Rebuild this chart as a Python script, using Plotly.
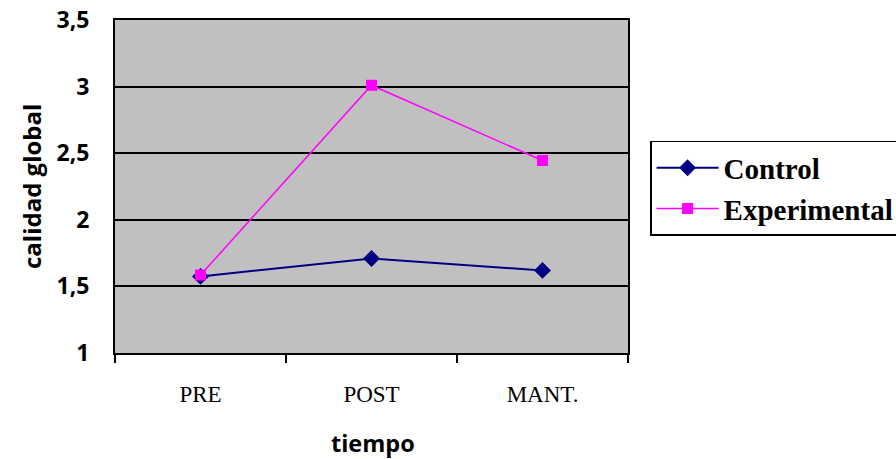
import plotly.graph_objects as go

categories = ["PRE", "POST", "MANT."]
control = [1.575, 1.71, 1.62]
experimental = [1.585, 3.01, 2.445]
y_ticks = [1, 1.5, 2, 2.5, 3, 3.5]
y_tick_labels = ["1", "1,5", "2", "2,5", "3", "3,5"]

fig = go.Figure()
fig.add_trace(go.Scatter(
    x=categories, y=control, name="Control", mode="lines+markers",
    line=dict(color="#000080", width=2),
    marker=dict(symbol="diamond", size=13, color="#000080"),
))
fig.add_trace(go.Scatter(
    x=categories, y=experimental, name="Experimental", mode="lines+markers",
    line=dict(color="#FF00FF", width=1.5),
    marker=dict(symbol="square", size=11, color="#FF00FF"),
))

fig.update_layout(
    width=896, height=459,
    margin=dict(l=115, r=268, t=20, b=106, autoexpand=False),
    paper_bgcolor="white", plot_bgcolor="#C0C0C0",
    showlegend=True,
    legend=dict(
        x=1.043, xanchor="left", y=0.637, yanchor="top",
        bordercolor="black", borderwidth=1.5, bgcolor="white",
        font=dict(family="Liberation Serif", size=29, color="black", weight="bold"),
        tracegroupgap=0, itemwidth=62,
    ),
    xaxis=dict(
        type="category", tickson="boundaries", ticks="outside", ticklen=8,
        tickcolor="black", tickwidth=2, automargin=False,
        showline=True, linecolor="black", linewidth=2, mirror=True,
        showgrid=False, ticklabelstandoff=19,
        tickfont=dict(family="Liberation Serif", size=23, color="black"),
        range=[-0.5, 2.5],
    ),
    yaxis=dict(
        range=[1, 3.5], tickvals=y_ticks, ticktext=y_tick_labels,
        showline=True, linecolor="black", linewidth=2, mirror=True,
        showgrid=True, gridcolor="black", gridwidth=2, automargin=False,
        ticks="", ticklabelstandoff=19, zeroline=False,
        tickfont=dict(family="Open Sans", size=23, color="black", weight="bold"),
    ),
    annotations=[
        dict(text="calidad global", x=31, y=187, xref="paper", yref="paper",
             xanchor="center", yanchor="middle",
             showarrow=False, textangle=-90,
             font=dict(family="Open Sans", size=24, color="black", weight="bold")),
        dict(text="tiempo", x=373, y=443, xref="paper", yref="paper",
             xanchor="center", yanchor="middle",
             showarrow=False,
             font=dict(family="Open Sans", size=23.5, color="black", weight="bold")),
    ],
)

# convert pixel anchors for the axis titles into paper coordinates
plot_w = 896 - 115 - 268
plot_h = 459 - 20 - 106
for ann in fig.layout.annotations:
    px, py = ann.x, ann.y
    ann.x = (px - 115) / plot_w
    ann.y = (459 - 106 - py) / plot_h

fig.write_html("out.html")
